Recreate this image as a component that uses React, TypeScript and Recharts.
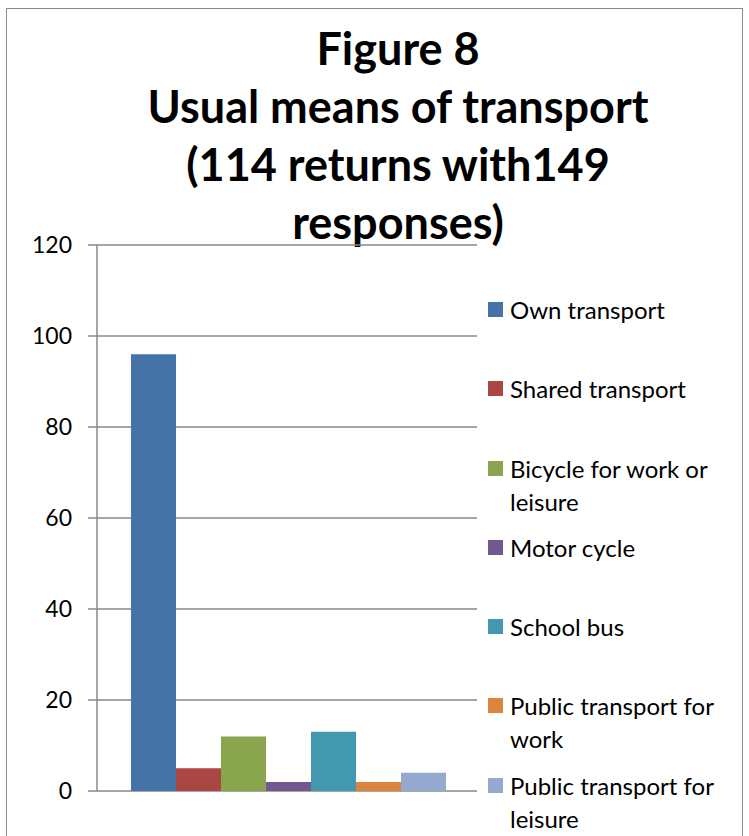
import React from 'react';
import { BarChart, Bar, XAxis, YAxis, CartesianGrid, Legend } from 'recharts';

const seriesNames = [
  'Own transport',
  'Shared transport',
  'Bicycle for work or leisure',
  'Motor cycle',
  'School bus',
  'Public transport for work',
  'Public transport for leisure',
];
const seriesKeys = ['own', 'shared', 'bicycle', 'motor', 'school', 'publicWork', 'publicLeisure'];
const seriesValues = [96, 5, 12, 2, 13, 2, 4];
const seriesColors = ['#4572A7', '#AA4643', '#89A54E', '#71588F', '#4198AF', '#DB843D', '#93A9CF'];
const yTicks = [0, 20, 40, 60, 80, 100, 120];
const titleLines = ['Figure 8', 'Usual means of transport', '(114 returns with149', 'responses)'];

const row: Record<string, number | string> = { name: '' };
seriesKeys.forEach((k, i) => {
  row[k] = seriesValues[i];
});
const data = [row];

const FONT = 'Lato, "Open Sans", sans-serif';

const LegendContent = (props: any) => {
  const payload = [...(props.payload || [])].sort(
    (a: any, b: any) => seriesNames.indexOf(a.value) - seriesNames.indexOf(b.value)
  );
  return (
    <div style={{ fontFamily: FONT }}>
      {payload.map((p: any, i: number) => (
        <div key={i} style={{ height: 79.3, display: 'flex', alignItems: 'flex-start' }}>
          <div
            style={{
              width: 15,
              height: 15,
              background: p.color,
              marginTop: 9,
              marginRight: 7,
              flexShrink: 0,
            }}
          />
          <div style={{ fontSize: 24, lineHeight: '33px', color: '#000', width: 224 }}>{p.value}</div>
        </div>
      ))}
    </div>
  );
};

export default function App() {
  return (
    <div style={{ position: 'absolute', left: 0, top: 0, width: 749, height: 836, background: '#fff', overflow: 'hidden' }}>
      <div
        style={{
          position: 'absolute',
          left: 6,
          top: 8,
          width: 737,
          height: 860,
          border: '1.5px solid #8a8a8a',
          boxSizing: 'border-box',
        }}
      />
      <div
        style={{
          position: 'absolute',
          left: 98,
          top: 19,
          width: 600,
          textAlign: 'center',
          fontFamily: FONT,
          fontWeight: 700,
          fontSize: 45,
          lineHeight: '58px',
          color: '#000',
          whiteSpace: 'nowrap',
        }}
      >
        {titleLines.map((t, i) => (
          <div key={i}>{t}</div>
        ))}
      </div>
      <div style={{ position: 'absolute', left: 0, top: 0 }}>
        <BarChart
          width={749}
          height={836}
          data={data}
          margin={{ top: 245, right: 272, bottom: 45, left: 0 }}
          barCategoryGap={34}
          barGap={0}
        >
          <CartesianGrid horizontal vertical={false} stroke="#888" strokeWidth={1.5} />
          <XAxis dataKey="name" hide />
          <YAxis
            width={97}
            domain={[0, 120]}
            ticks={yTicks}
            interval={0}
            tickSize={9}
            tickMargin={16}
            axisLine={{ stroke: '#888', strokeWidth: 1.5 }}
            tickLine={{ stroke: '#888', strokeWidth: 1.5 }}
            tick={{ fontSize: 23, fill: '#000', fontFamily: FONT }}
          />
          {seriesKeys.map((k, i) => (
            <Bar key={k} dataKey={k} name={seriesNames[i]} fill={seriesColors[i]} isAnimationActive={false} />
          ))}
          <Legend
            layout="vertical"
            align="center"
            verticalAlign="middle"
            content={<LegendContent />}
            wrapperStyle={{ position: 'absolute', left: 488, top: 293, width: 255 }}
          />
        </BarChart>
      </div>
    </div>
  );
}
